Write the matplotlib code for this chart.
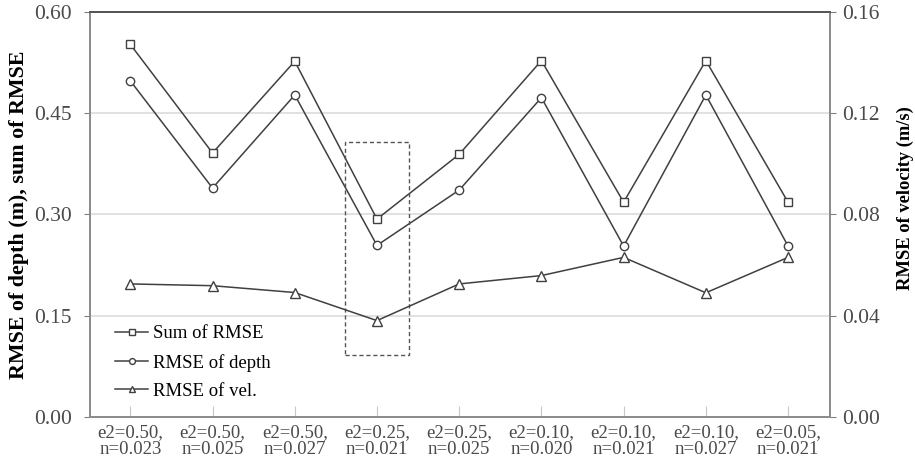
import matplotlib
matplotlib.use("Agg")
from matplotlib import pyplot as plt
from matplotlib.patches import Rectangle

# data
cases = ["e2=0.50,\nn=0.023", "e2=0.50,\nn=0.025", "e2=0.50,\nn=0.027",
         "e2=0.25,\nn=0.021", "e2=0.25,\nn=0.025", "e2=0.10,\nn=0.020",
         "e2=0.10,\nn=0.021", "e2=0.10,\nn=0.027", "e2=0.05,\nn=0.021"]
sum_rmse = [0.552, 0.391, 0.527, 0.293, 0.389, 0.528, 0.318, 0.528, 0.318]
rmse_depth = [0.498, 0.339, 0.477, 0.254, 0.336, 0.473, 0.253, 0.477, 0.253]
rmse_vel = [0.0525, 0.0518, 0.0491, 0.0380, 0.0525, 0.0558, 0.0630, 0.0490, 0.0630]

plt.rcParams['font.family'] = ['Liberation Serif', 'DejaVu Serif']

line_c = '#404040'
text_c = '#4a4a4a'
x = list(range(len(cases)))

fig = plt.figure(figsize=(9.15, 4.62), dpi=100)
ax = fig.add_axes([0.0984, 0.098, 0.8087, 0.876])
ax2 = ax.twinx()

ax.set_axisbelow(True)
ax.yaxis.grid(True, color='#dcdcdc', lw=1.2)

h1, = ax.plot(x, sum_rmse, color=line_c, lw=1.1, marker='s', ms=6,
              mfc='white', mec=line_c, mew=1.0, label='Sum of RMSE')
h2, = ax.plot(x, rmse_depth, color=line_c, lw=1.1, marker='o', ms=6,
              mfc='white', mec=line_c, mew=1.0, label='RMSE of depth')
h3, = ax2.plot(x, rmse_vel, color=line_c, lw=1.1, marker='^', ms=6.5,
               mfc='white', mec=line_c, mew=1.0, label='RMSE of vel.')

# highlight box around case 4
ax.add_patch(Rectangle((2.61, 0.091), 0.78, 0.317, fill=False,
                       ls=(0, (3, 2)), lw=1.0, ec='#555555', zorder=5))

ax.set_xlim(-0.49, 8.51)
ax.set_ylim(0, 0.60)
ax.set_yticks([0, 0.15, 0.30, 0.45, 0.60])
ax.set_yticklabels(['0.00', '0.15', '0.30', '0.45', '0.60'])
ax2.set_ylim(0, 0.16)
ax2.set_yticks([0, 0.04, 0.08, 0.12, 0.16])
ax2.set_yticklabels(['0.00', '0.04', '0.08', '0.12', '0.16'])

ax.set_xticks(x)
ax.set_xticklabels(cases, fontsize=13.5, color=text_c, linespacing=1.05)
ax.tick_params(axis='x', direction='in', length=8, color='#c8c8c8', pad=5)
ax.tick_params(axis='y', direction='out', length=4, color='#808080',
               labelsize=15.5, labelcolor=text_c, pad=9)
ax2.tick_params(axis='y', direction='out', length=4, color='#808080',
                labelsize=15.5, labelcolor=text_c, pad=5)

for a in (ax, ax2):
    for s in ('left', 'right', 'bottom'):
        a.spines[s].set_color('#8c8c8c')
        a.spines[s].set_linewidth(1.3)
    a.spines['top'].set_color('#555555')
    a.spines['top'].set_linewidth(1.3)

ax.set_ylabel('RMSE of depth (m), sum of RMSE', fontsize=15.8,
              fontweight='bold', labelpad=4)
ax2.set_ylabel('RMSE of velocity (m/s)', fontsize=13.3, fontweight='bold',
               rotation=90, labelpad=10)
ax2.yaxis.set_label_coords(1.09, 0.54)

ax.legend(handles=[h1, h2, h3], loc='lower left', bbox_to_anchor=(0.024, 0.023),
          frameon=False, fontsize=13.5, handlelength=1.75, handletextpad=0.25,
          labelspacing=0.6, borderaxespad=0, markerscale=0.7)

fig.savefig('out.png', dpi=100)
